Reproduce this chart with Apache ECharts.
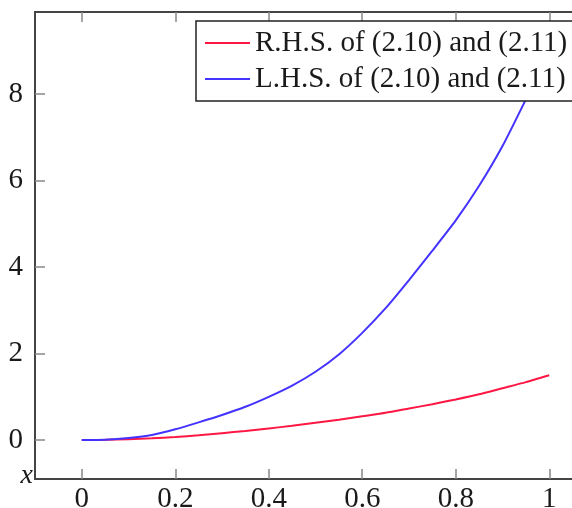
<!DOCTYPE html>
<html>
<head>
<meta charset="utf-8">
<script src="https://cdn.jsdelivr.net/npm/echarts@6/dist/echarts.min.js"></script>
<style>
  html, body { margin: 0; padding: 0; background: #fff; }
  #chart { width: 572px; height: 508px; }
</style>
</head>
<body>
<div id="chart"></div>
<script>
// sample points
var xs = [0, 0.05, 0.1, 0.15, 0.2, 0.25, 0.3, 0.35, 0.4, 0.45, 0.5,
          0.55, 0.6, 0.65, 0.7, 0.75, 0.8, 0.85, 0.9, 0.95, 1];
var rhs = [0, 0.005, 0.02, 0.04, 0.07, 0.11, 0.16, 0.21, 0.27, 0.33, 0.40,
           0.47, 0.55, 0.63, 0.73, 0.83, 0.94, 1.06, 1.20, 1.34, 1.5];
var lhs = [0, 0.01, 0.05, 0.12, 0.25, 0.41, 0.58, 0.77, 1.0, 1.26, 1.58,
           1.98, 2.48, 3.05, 3.7, 4.38, 5.08, 5.88, 6.8, 7.88, 9.0];
var xTicks = [0, 0.2, 0.4, 0.6, 0.8, 1];
var yTicks = [0, 2, 4, 6, 8];
var names = ["R.H.S. of (2.10) and (2.11)", "L.H.S. of (2.10) and (2.11)"];

function pairs(ys) {
  return xs.map(function (x, i) { return [x, ys[i]]; });
}

var serif = "Liberation Serif";
var chart = echarts.init(document.getElementById("chart"));

chart.setOption({
  animation: false,
  backgroundColor: "#fff",
  grid: {
    left: 35,
    top: 12,
    width: 561,
    bottom: 29,
    outerBoundsMode: "none",
  },
  legend: {
    left: 196,
    top: 21,
    orient: "vertical",
    data: names,
    icon: "rect",
    itemWidth: 45,
    itemHeight: 2,
    itemGap: 6,
    padding: [7, 10, 7, 9],
    backgroundColor: "#fff",
    borderColor: "#222",
    borderWidth: 1.5,
    borderRadius: 0,
    textStyle: {
      fontFamily: serif,
      fontSize: 29,
      lineHeight: 30,
      color: "#1a1a1a",
    },
  },
  xAxis: [
    {
      type: "value",
      min: -0.1,
      max: 1.1,
      name: "x",
      nameLocation: "start",
      nameGap: 2,
      nameTextStyle: {
        fontFamily: serif,
        fontStyle: "italic",
        fontSize: 28,
        color: "#1a1a1a",
        verticalAlign: "bottom",
        padding: [0, 0, -11, 0],
      },
      axisLine: { onZero: false, lineStyle: { color: "#444", width: 2 } },
      axisTick: {
        inside: true,
        length: 10,
        customValues: xTicks,
        lineStyle: { color: "#888", width: 1.5 },
      },
      axisLabel: {
        customValues: xTicks,
        margin: 6,
        fontFamily: serif,
        fontSize: 29,
        color: "#1a1a1a",
      },
      splitLine: { show: false },
    },
    {
      type: "value",
      position: "top",
      min: -0.1,
      max: 1.1,
      axisLine: { onZero: false, lineStyle: { color: "#444", width: 2 } },
      axisTick: {
        inside: true,
        length: 10,
        customValues: xTicks,
        lineStyle: { color: "#888", width: 1.5 },
      },
      axisLabel: { show: false },
      splitLine: { show: false },
    },
  ],
  yAxis: {
    type: "value",
    min: -0.9,
    max: 9.9,
    axisLine: { show: true, onZero: false, lineStyle: { color: "#444", width: 2 } },
    axisTick: {
      show: true,
      inside: true,
      length: 10,
      customValues: yTicks,
      lineStyle: { color: "#888", width: 1.5 },
    },
    axisLabel: {
      customValues: yTicks,
      margin: 12,
      fontFamily: serif,
      fontSize: 29,
      color: "#1a1a1a",
    },
    splitLine: { show: false },
  },
  series: [
    {
      name: names[0],
      type: "line",
      data: pairs(rhs),
      showSymbol: false,
      smooth: 0.2,
      lineStyle: { width: 2, color: "#ff1744" },
      itemStyle: { color: "#ff1744" },
    },
    {
      name: names[1],
      type: "line",
      data: pairs(lhs),
      showSymbol: false,
      smooth: 0.2,
      lineStyle: { width: 2, color: "#4433ff" },
      itemStyle: { color: "#4433ff" },
    },
  ],
});
</script>
</body>
</html>
